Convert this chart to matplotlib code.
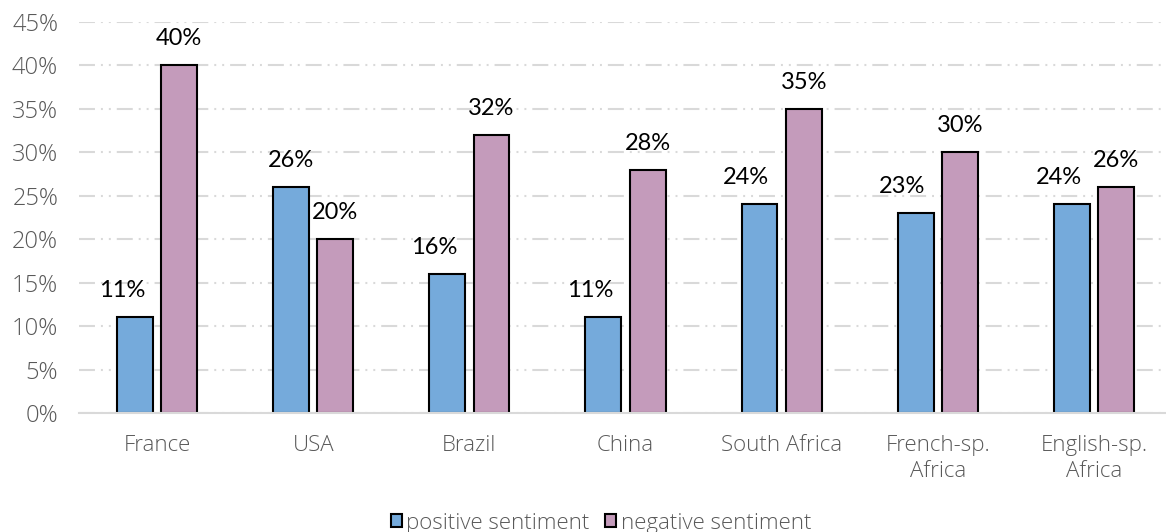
import matplotlib
matplotlib.use("Agg")
import matplotlib.pyplot as plt
import numpy as np
from matplotlib.ticker import FuncFormatter, MultipleLocator
from matplotlib.patches import Patch

categories = ["France", "USA", "Brazil", "China", "South Africa",
              "French-sp.\nAfrica", "English-sp.\nAfrica"]
positive = [11, 26, 16, 11, 24, 23, 24]
negative = [40, 20, 32, 28, 35, 30, 26]
series_names = ["positive sentiment", "negative sentiment"]

BLUE = "#75AADB"
PINK = "#C49BBB"
GRID = "#D9D9D9"
TEXT_GRAY = "#595959"

plt.rcParams["lines.scale_dashes"] = False
LIGHT = ["Open Sans", "DejaVu Sans"]

W, H = 1166, 532
fig = plt.figure(figsize=(W / 100, H / 100), dpi=100)
ax = fig.add_axes([79 / W, 1 - 413 / H, (1172 - 79) / W, (413 - 22) / H])

x = np.arange(len(categories))
width = 0.23
off = 0.142
b1 = ax.bar(x - off, positive, width, color=BLUE, edgecolor="black",
            linewidth=1.5, zorder=3, label=series_names[0])
b2 = ax.bar(x + off, negative, width, color=PINK, edgecolor="black",
            linewidth=1.5, zorder=3, label=series_names[1])

# value labels; a left-hand label is nudged left when the neighbouring
# bar is taller so the text does not run into it
for i, (rect, v) in enumerate(zip(b1, positive)):
    dx = -9.5 if negative[i] > v else 0
    ax.annotate(f"{v}%", (rect.get_x() + rect.get_width() / 2, v),
                xytext=(dx, 11.5), textcoords="offset points",
                ha="center", va="bottom", fontsize=17,
                family=["Lato", "DejaVu Sans"], color="black")
for rect, v in zip(b2, negative):
    ax.annotate(f"{v}%", (rect.get_x() + rect.get_width() / 2, v),
                xytext=(0, 11.5), textcoords="offset points",
                ha="center", va="bottom", fontsize=17,
                family=["Lato", "DejaVu Sans"], color="black")

ax.set_xlim(-0.5, len(categories) - 0.5)
ax.set_ylim(0, 45)
ax.yaxis.set_major_locator(MultipleLocator(5))
ax.yaxis.set_major_formatter(FuncFormatter(lambda v, p: f"{v:.0f}%"))

ax.grid(axis="y", color=GRID, linewidth=1.5,
        dashes=(11.5, 4.3, 1.4, 4.3, 1.4, 4.3), zorder=0)
ax.grid(axis="x", visible=False)

for s in ("top", "right", "left"):
    ax.spines[s].set_visible(False)
ax.spines["bottom"].set_color(GRID)
ax.spines["bottom"].set_linewidth(1.5)
ax.spines["bottom"].set_zorder(4)

ax.set_xticks(x)
ax.set_xticklabels(categories)
ax.tick_params(axis="both", length=0, labelcolor=TEXT_GRAY)
ax.tick_params(axis="x", pad=16, labelsize=16)
ax.tick_params(axis="y", pad=15, labelsize=17)
for lab in ax.get_xticklabels() + ax.get_yticklabels():
    lab.set_family(LIGHT)
    lab.set_fontweight("light")
for lab in ax.get_xticklabels():
    lab.set_linespacing(1.3)

handles = [Patch(facecolor=BLUE, edgecolor="black", linewidth=1.5),
           Patch(facecolor=PINK, edgecolor="black", linewidth=1.5)]
leg = fig.legend(handles, series_names, loc="center",
                 bbox_to_anchor=(601 / W, 1 - 523 / H), ncol=2, frameon=False,
                 prop={"family": LIGHT, "weight": "light", "size": 16},
                 handlelength=0.5, handleheight=0.5, handletextpad=0.2,
                 columnspacing=0.7, borderaxespad=0)
for t in leg.get_texts():
    t.set_color(TEXT_GRAY)

fig.savefig("out.png", dpi=100)
